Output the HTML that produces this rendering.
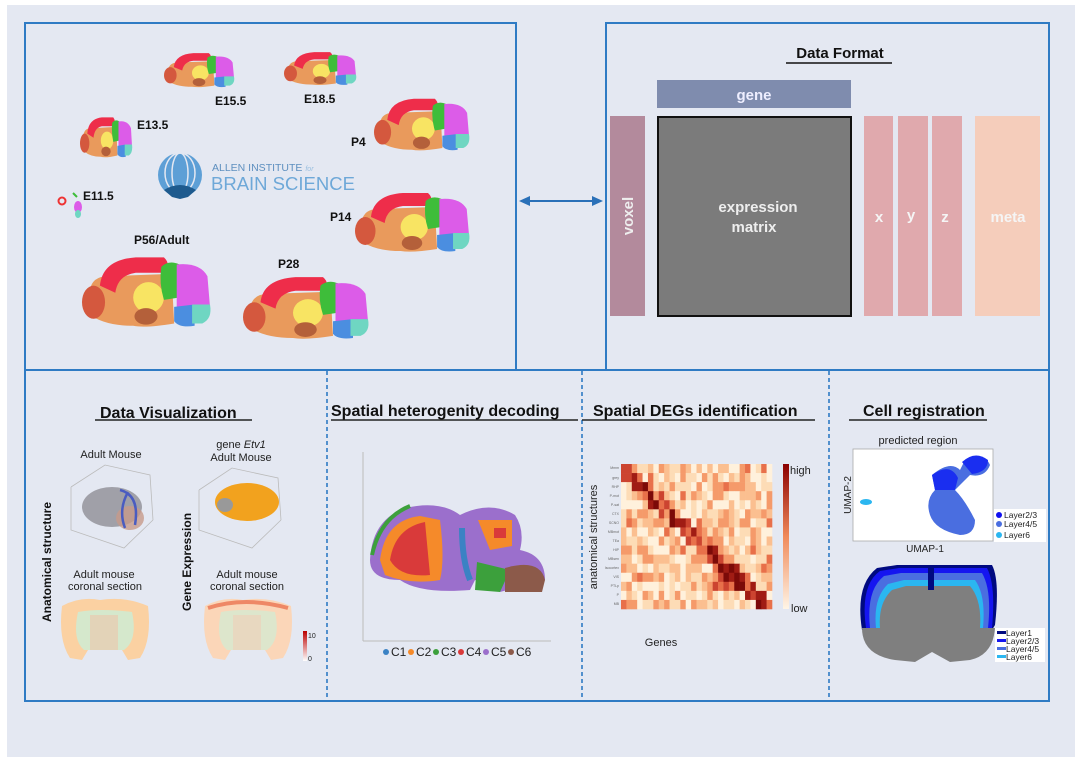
<!DOCTYPE html>
<html><head><meta charset="utf-8"><style>
html,body{margin:0;padding:0;background:#fff;}
svg{display:block;font-family:"Liberation Sans",Arial,sans-serif;}
</style></head><body>
<svg width="1080" height="761" viewBox="0 0 1080 761" xmlns="http://www.w3.org/2000/svg">
<defs>
<g id="brain">
  <path d="M6 30 Q8 18 20 18 L70 16 L72 58 Q50 62 40 60 Q20 60 8 52 Z" fill="#e99a5c"/>
  <ellipse cx="9" cy="40" rx="9" ry="14" fill="#d4583e"/>
  <path d="M14 26 Q16 4 42 2 L64 2 Q70 8 64 15 L42 15 Q28 17 26 32 Z" fill="#ee2d4a"/>
  <ellipse cx="52" cy="36" rx="12" ry="13" fill="#f8e463"/>
  <ellipse cx="50" cy="52" rx="9" ry="7" fill="#b4603a"/>
  <path d="M62 10 Q68 4 76 8 L76 36 L64 38 Q60 24 62 10Z" fill="#3ebd3a"/>
  <path d="M74 8 Q92 6 98 18 L100 44 L74 46 Z" fill="#dc5ce8"/>
  <path d="M72 44 L88 42 L88 60 Q76 62 72 56Z" fill="#4b8ee0"/>
  <path d="M86 42 L100 42 Q102 54 94 58 L86 58Z" fill="#6fd6c2"/>
</g>
</defs>
<rect x="7" y="5" width="1068" height="752" fill="#e4e8f2"/>
<g fill="none" stroke="#2f7bc4" stroke-width="2">
<rect x="25" y="23" width="491" height="347"/>
<rect x="606" y="23" width="443" height="347"/>
<rect x="25" y="370" width="1024" height="331"/>
</g>
<g stroke="#2f7bc4" stroke-width="1.6" stroke-dasharray="4,3">
<line x1="327" y1="371" x2="327" y2="700"/>
<line x1="582" y1="371" x2="582" y2="700"/>
<line x1="829" y1="371" x2="829" y2="700"/>
</g>
<line x1="528" y1="201" x2="594" y2="201" stroke="#2a70b8" stroke-width="2"/>
<path d="M519 201 L530 196 L530 206 Z M603 201 L592 196 L592 206 Z" fill="#2a70b8"/>

<use href="#brain" transform="translate(82,255) scale(1.28,1.18)"/>
<use href="#brain" transform="translate(243,275) scale(1.25,1.05)"/>
<use href="#brain" transform="translate(355,191) scale(1.14,1.0)"/>
<use href="#brain" transform="translate(374,97) scale(0.95,0.88)"/>
<use href="#brain" transform="translate(284,51) scale(0.72,0.56)"/>
<use href="#brain" transform="translate(164,52) scale(0.7,0.58)"/>
<use href="#brain" transform="translate(80,116) scale(0.52,0.68)"/>
<circle cx="62" cy="201" r="3.5" fill="none" stroke="#e33" stroke-width="2"/>
<ellipse cx="78" cy="207" rx="4" ry="6" fill="#dc5ce8"/><ellipse cx="78" cy="214" rx="3" ry="4" fill="#6fd6c2"/>
<path d="M73 193 l4 4" stroke="#3ebd3a" stroke-width="2"/>
<g font-weight="bold" font-size="12" fill="#111">
<text x="215" y="105">E15.5</text><text x="304" y="103">E18.5</text>
<text x="137" y="129">E13.5</text><text x="351" y="146">P4</text>
<text x="83" y="200">E11.5</text><text x="330" y="221">P14</text>
<text x="134" y="244">P56/Adult</text><text x="278" y="268">P28</text>
</g>
<circle cx="180" cy="175" r="22" fill="#5d9fd6"/>
<g fill="none" stroke="#e4e8f2" stroke-width="1.5">
<ellipse cx="180" cy="173" rx="8" ry="20"/><ellipse cx="180" cy="173" rx="15" ry="20"/></g>
<path d="M164 190 Q180 180 196 190 L188 197 L180 199 L172 197 Z" fill="#1e5a8e"/>
<text x="212" y="171" font-size="10.5" fill="#5d8fbf">ALLEN INSTITUTE <tspan font-size="7" font-style="italic" fill="#9cc0e0">for</tspan></text>
<text x="211" y="190" font-size="18.5" fill="#6ea8d8">BRAIN SCIENCE</text>

<text x="840" y="58" font-size="15" font-weight="bold" text-anchor="middle" fill="#111">Data Format</text>
<line x1="786" y1="63" x2="892" y2="63" stroke="#111" stroke-width="1.5"/>
<rect x="657" y="80" width="194" height="28" fill="#7f8cae"/>
<text x="754" y="100" font-size="15" font-weight="bold" fill="#eef" text-anchor="middle">gene</text>
<rect x="610" y="116" width="35" height="200" fill="#b38a9c"/>
<text transform="translate(633,216) rotate(-90)" font-size="15" font-weight="bold" fill="#eee" text-anchor="middle">voxel</text>
<rect x="658" y="117" width="193" height="199" fill="#7b7b7b" stroke="#111" stroke-width="2"/>
<text x="758" y="212" font-size="15" font-weight="bold" fill="#eee" text-anchor="middle">expression</text>
<text x="754" y="232" font-size="15" font-weight="bold" fill="#eee" text-anchor="middle">matrix</text>
<rect x="864" y="116" width="29" height="200" fill="#e0a9ad"/>
<rect x="898" y="116" width="30" height="200" fill="#e0a9ad"/>
<rect x="932" y="116" width="30" height="200" fill="#e0a9ad"/>
<rect x="975" y="116" width="65" height="200" fill="#f5cdbb"/>
<g font-size="15" font-weight="bold" fill="#f5f5f5" text-anchor="middle">
<text x="879" y="222">x</text><text x="911" y="220">y</text><text x="945" y="222">z</text><text x="1008" y="222">meta</text></g>

<g font-size="16" font-weight="bold" fill="#111">
<text x="100" y="418">Data Visualization</text>
<text x="331" y="416">Spatial heterogenity decoding</text>
<text x="593" y="416">Spatial DEGs identification</text>
<text x="863" y="416">Cell registration</text></g>
<g stroke="#222" stroke-width="1.5">
<line x1="95" y1="420" x2="252" y2="420"/><line x1="331" y1="420" x2="578" y2="420"/>
<line x1="582" y1="420" x2="815" y2="420"/><line x1="849" y1="420" x2="987" y2="420"/></g>

<g font-size="11" fill="#222" text-anchor="middle">
<text x="111" y="458">Adult Mouse</text>
<text x="241" y="448">gene <tspan font-style="italic">Etv1</tspan></text>
<text x="241" y="461">Adult Mouse</text>
<text x="104" y="578">Adult mouse</text><text x="105" y="590">coronal section</text>
<text x="247" y="578">Adult mouse</text><text x="247" y="590">coronal section</text></g>
<text transform="translate(51,562) rotate(-90)" font-size="12" font-weight="bold" text-anchor="middle" fill="#111">Anatomical structure</text>
<text transform="translate(191,562) rotate(-90)" font-size="12" font-weight="bold" text-anchor="middle" fill="#111">Gene Expression</text>
<g fill="none" stroke="#bbb" stroke-width="0.8">
<path d="M71 487 L71 530 L124 548 L153 520 M71 487 L105 465 L150 475 L153 520"/>
<path d="M199 490 L199 530 L252 548 L281 520 M199 490 L232 468 L278 478 L281 520"/></g>
<ellipse cx="112" cy="507" rx="30" ry="20" fill="#a0a0a8"/>
<ellipse cx="130" cy="518" rx="14" ry="12" fill="#c79a8a" opacity="0.8"/>
<path d="M120 490 Q140 495 135 525 M128 492 Q118 510 125 528" stroke="#4a5cc0" stroke-width="2.5" fill="none"/>
<ellipse cx="247" cy="502" rx="32" ry="19" fill="#f2a21e"/>
<ellipse cx="225" cy="505" rx="8" ry="7" fill="#999"/>
<path d="M100 600 Q125 596 148 606 Q152 640 140 658 L128 660 L122 650 L88 650 L82 660 L70 658 Q58 640 62 606 Q80 596 100 600Z" fill="#fbd1a2"/>
<path d="M78 612 Q100 608 132 612 Q138 640 124 650 L84 650 Q72 640 78 612Z" fill="#d5e8cc"/>
<rect x="90" y="615" width="28" height="35" fill="#e3d3b8"/>
<path d="M243 600 Q268 596 291 606 Q295 640 283 658 L271 660 L265 650 L231 650 L225 660 L213 658 Q201 640 205 606 Q223 596 243 600Z" fill="#fbd6b8"/>
<path d="M208 608 Q245 596 288 608" stroke="#ee8866" stroke-width="4" fill="none"/>
<path d="M221 612 Q243 608 275 612 Q281 640 267 650 L227 650 Q215 640 221 612Z" fill="#dde6cc"/>
<rect x="233" y="615" width="28" height="35" fill="#e8d8c0"/>
<defs><linearGradient id="rg" x1="0" y1="1" x2="0" y2="0"><stop offset="0" stop-color="#fff"/><stop offset="1" stop-color="#b00"/></linearGradient></defs>
<rect x="303" y="631" width="4" height="30" fill="url(#rg)"/>
<text x="308" y="638" font-size="7" fill="#222">10</text><text x="308" y="661" font-size="7" fill="#222">0</text>

<line x1="363" y1="452" x2="363" y2="641" stroke="#bbb"/>
<line x1="363" y1="641" x2="551" y2="641" stroke="#bbb"/>
<path d="M370 560 Q372 520 405 508 Q440 500 460 515 Q490 500 515 515 Q525 530 520 550 Q545 555 545 580 L500 592 L475 580 L470 590 Q420 594 400 580 Q370 580 370 560Z" fill="#9b6fcc"/>
<path d="M380 560 Q385 520 420 516 L440 520 Q445 560 440 580 Q410 585 385 575Z" fill="#f58a2a"/>
<path d="M390 560 Q395 528 425 522 L430 575 Q400 578 390 560Z" fill="#d93a3a"/>
<path d="M478 520 L512 520 L512 546 L490 550Z" fill="#f58a2a"/>
<rect x="494" y="528" width="12" height="10" fill="#d93a3a"/>
<path d="M477 562 L510 570 L500 592 L475 590Z" fill="#3ca03c"/>
<path d="M505 568 Q540 558 545 580 L542 592 L505 592Z" fill="#8c5a4a"/>
<path d="M372 555 Q380 518 410 506" stroke="#3ca03c" stroke-width="4" fill="none"/>
<path d="M462 528 Q462 560 470 580" stroke="#3b82c4" stroke-width="6" fill="none"/>
<g font-size="12" fill="#222">
<circle cx="386" cy="652" r="3" fill="#3b82c4"/><text x="391" y="656">C1</text>
<circle cx="411" cy="652" r="3" fill="#f58a2a"/><text x="416" y="656">C2</text>
<circle cx="436" cy="652" r="3" fill="#3ca03c"/><text x="441" y="656">C3</text>
<circle cx="461" cy="652" r="3" fill="#d93a3a"/><text x="466" y="656">C4</text>
<circle cx="486" cy="652" r="3" fill="#9b6fcc"/><text x="491" y="656">C5</text>
<circle cx="511" cy="652" r="3" fill="#8c5a4a"/><text x="516" y="656">C6</text></g>

<g id="hm"></g>
<defs><linearGradient id="hg" x1="0" y1="1" x2="0" y2="0"><stop offset="0" stop-color="#fff5e6"/><stop offset="0.5" stop-color="#f08a5a"/><stop offset="1" stop-color="#8b0000"/></linearGradient></defs>
<rect x="783" y="464" width="6" height="145" fill="url(#hg)"/>
<text x="790" y="474" font-size="11" fill="#222">high</text>
<text x="791" y="612" font-size="11" fill="#222">low</text>
<text x="661" y="646" font-size="11" fill="#222" text-anchor="middle">Genes</text>
<text transform="translate(597,537) rotate(-90)" font-size="11" fill="#222" text-anchor="middle">anatomical structures</text>
<g font-size="3.5" fill="#666" text-anchor="end">
<text x="619" y="469">Mmm</text><text x="619" y="479">grey</text><text x="619" y="488">RHP</text><text x="619" y="497">P-mot</text><text x="619" y="506">P-sat</text><text x="619" y="515">CTX</text><text x="619" y="524">SCNO</text><text x="619" y="533">MBmot</text><text x="619" y="542">TEa</text><text x="619" y="551">HIP</text><text x="619" y="560">MBsen</text><text x="619" y="569">Isocortex</text><text x="619" y="578">VIS</text><text x="619" y="587">PTLp</text><text x="619" y="596">P</text><text x="619" y="605">MB</text></g>

<text x="918" y="444" font-size="11" fill="#222" text-anchor="middle">predicted region</text>
<rect x="853" y="449" width="140" height="92" fill="#fff" stroke="#aaa" stroke-width="0.8"/>
<path d="M932 475 Q950 460 960 470 L965 460 Q985 452 990 465 Q985 478 970 475 Q960 485 955 490 Q965 500 975 520 Q975 535 960 535 Q935 530 930 515 Q925 500 935 490Z" fill="#4a6ee0"/>
<path d="M932 475 Q950 462 958 478 L955 490 L935 490Z" fill="#1a2ef0"/>
<path d="M962 462 Q975 450 988 460 Q988 472 972 474Z" fill="#1a2ef0"/>
<ellipse cx="866" cy="502" rx="6" ry="3" fill="#2bb6f0"/>
<text transform="translate(851,495) rotate(-90)" font-size="10" fill="#222" text-anchor="middle">UMAP-2</text>
<text x="925" y="552" font-size="10" fill="#222" text-anchor="middle">UMAP-1</text>
<rect x="994" y="509" width="52" height="33" fill="#fff"/>
<g font-size="8.5" fill="#222">
<circle cx="999" cy="515" r="3" fill="#1010f0"/><text x="1004" y="518">Layer2/3</text>
<circle cx="999" cy="524" r="3" fill="#4a6ee0"/><text x="1004" y="527">Layer4/5</text>
<circle cx="999" cy="535" r="3" fill="#2bb6f0"/><text x="1004" y="538">Layer6</text></g>
<path d="M897 565 L992 565 Q1000 580 995 625 L992 630 L862 630 Q855 585 877 568Z" fill="#000a80"/>
<path d="M899 568 L987 568 Q996 585 992 628 L866 628 Q860 585 880 571Z" fill="#1515f0"/>
<path d="M901 573 L982 573 Q992 590 988 628 L870 628 Q866 590 884 576Z" fill="#4a6ee0"/>
<path d="M904 580 L975 580 Q986 595 983 628 L876 628 Q873 598 888 584Z" fill="#2bb6f0"/>
<path d="M906 586 L970 586 Q982 600 980 628 L880 628 Q878 603 892 590Z" fill="#7f7f7f"/>
<path d="M862 628 L995 628 Q993 655 970 660 L950 662 L932 652 L915 662 L895 660 Q862 655 862 628Z" fill="#7f7f7f"/>
<rect x="928" y="565" width="6" height="25" fill="#000a80"/>
<rect x="995" y="628" width="50" height="34" fill="#fff"/>
<g font-size="8.5" fill="#222">
<rect x="997" y="631" width="9" height="3" fill="#000a80"/><text x="1006" y="636">Layer1</text>
<rect x="997" y="639" width="9" height="3" fill="#1515f0"/><text x="1006" y="644">Layer2/3</text>
<rect x="997" y="647" width="9" height="3" fill="#4a6ee0"/><text x="1006" y="652">Layer4/5</text>
<rect x="997" y="655" width="9" height="3" fill="#2bb6f0"/><text x="1006" y="660">Layer6</text></g>
</svg>
<script>
(function(){
var g=document.getElementById('hm'),ns='http://www.w3.org/2000/svg';
var cols=['#fff1dc','#fddcb6','#fbbf90','#f59a6a','#e8704a','#cc4430','#a01c14','#7c0a08'];
var R=16,C=28,x0=621,y0=464,w=151/C,h=145/R,s=7;
function rnd(){s=(s*9301+49297)%233280;return s/233280;}
for(var r=0;r<R;r++)for(var c=0;c<C;c++){
var d=Math.abs(c*R/C-r);var v=rnd()*4.2+(d<1.2?3.5:0);
if(r>=11&&r<=13&&c>=17&&c<=22)v+=2.5;
var i=Math.max(0,Math.min(7,Math.floor(v)));
var e=document.createElementNS(ns,'rect');
e.setAttribute('x',x0+c*w);e.setAttribute('y',y0+r*h);
e.setAttribute('width',w+0.3);e.setAttribute('height',h+0.3);e.setAttribute('fill',cols[i]);g.appendChild(e);}
})();
</script>
</body></html>
